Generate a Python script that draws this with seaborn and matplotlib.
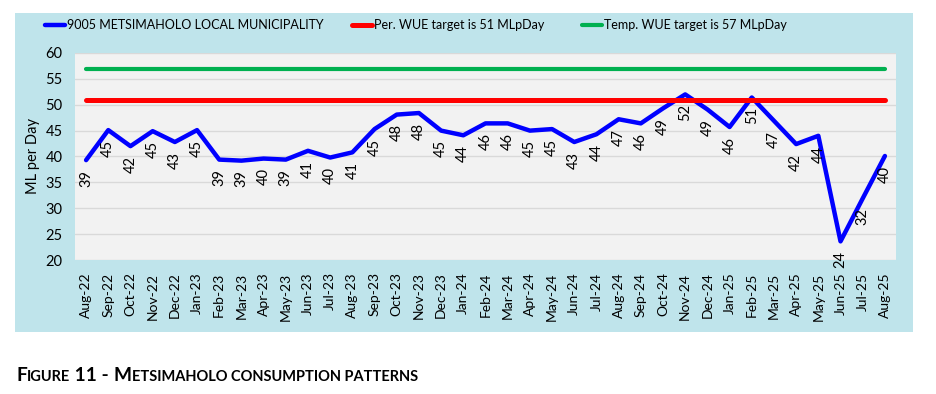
import numpy as np
import pandas as pd
import seaborn as sns
import matplotlib.pyplot as plt
from matplotlib.patches import Rectangle

months = ['Aug-22', 'Sep-22', 'Oct-22', 'Nov-22', 'Dec-22', 'Jan-23', 'Feb-23', 'Mar-23',
          'Apr-23', 'May-23', 'Jun-23', 'Jul-23', 'Aug-23', 'Sep-23', 'Oct-23', 'Nov-23',
          'Dec-23', 'Jan-24', 'Feb-24', 'Mar-24', 'Apr-24', 'May-24', 'Jun-24', 'Jul-24',
          'Aug-24', 'Sep-24', 'Oct-24', 'Nov-24', 'Dec-24', 'Jan-25', 'Feb-25', 'Mar-25',
          'Apr-25', 'May-25', 'Jun-25', 'Jul-25', 'Aug-25']
consumption = [39.3, 45.1, 42.0, 44.9, 42.8, 45.1, 39.4, 39.2,
               39.6, 39.4, 41.1, 39.8, 40.8, 45.3, 48.1, 48.4,
               45.0, 44.1, 46.4, 46.4, 45.0, 45.3, 42.8, 44.3,
               47.2, 46.4, 49.3, 52.0, 49.1, 45.7, 51.4, 46.9,
               42.4, 44.0, 23.6, 31.9, 40.1]
per_target = 51
temp_target = 57

series_name = '9005 METSIMAHOLO LOCAL MUNICIPALITY'
per_name = 'Per. WUE target is 51 MLpDay'
temp_name = 'Temp. WUE target is 57 MLpDay'

df = pd.DataFrame({'pos': np.arange(len(months)), 'month': months,
                   'usage': consumption})
df['per'] = per_target
df['temp'] = temp_target

sns.set_theme(style='white')
plt.rcParams['font.family'] = ['Lato', 'DejaVu Sans']
plt.rcParams['text.color'] = 'black'
plt.rcParams['axes.labelcolor'] = 'black'
plt.rcParams['xtick.color'] = 'black'
plt.rcParams['ytick.color'] = 'black'

fig = plt.figure(figsize=(9.36, 3.94), dpi=100)
W, H = 936, 394

# textured panel behind the chart (approximated as flat colour)
fig.patches.append(Rectangle((15 / W, 1 - 332 / H), (913 - 15) / W, (332 - 13) / H,
                             transform=fig.transFigure, facecolor='#bfe4eb',
                             edgecolor='none', zorder=-10))

ax = fig.add_axes([75 / W, 1 - 260 / H, (896 - 75) / W, (260 - 53) / H])
ax.set_zorder(2)
ax.set_facecolor('#f2f2f2')

sns.lineplot(data=df, x='pos', y='usage', ax=ax, color='#0000ff', lw=3.2,
             label=series_name, zorder=3)
sns.lineplot(data=df, x='pos', y='per', ax=ax, color='#ff0000', lw=3.6,
             label=per_name, zorder=4)
sns.lineplot(data=df, x='pos', y='temp', ax=ax, color='#00b050', lw=3.0,
             label=temp_name, zorder=4)

for x, v in zip(df['pos'], df['usage']):
    ax.annotate(f'{round(v)}', (x, v), xytext=(0, -7), textcoords='offset points',
                rotation=90, ha='center', va='top', fontsize=10.5, color='black', zorder=5,
                annotation_clip=False)

ax.set_xlim(-0.5, len(months) - 0.5)
ax.set_ylim(20, 60)
ax.set_yticks(range(20, 61, 5))
ax.set_xticks(df['pos'])
ax.set_xticklabels(months, rotation=90, fontsize=10)
ax.tick_params(axis='y', labelsize=10.5, pad=9, length=0)
ax.tick_params(axis='x', pad=9, length=0)
ax.yaxis.grid(True, color='#d9d9d9', lw=1)
ax.set_axisbelow(True)
for s in ax.spines.values():
    s.set_visible(False)
ax.set_xlabel('')
ax.set_ylabel('ML per Day', fontsize=10.5, labelpad=4)

handles, labels = ax.get_legend_handles_labels()
ax.get_legend().remove()
# one legend entry per target position, as in the source layout
for h, lab, x0 in zip(handles, labels, [40, 347, 577]):
    fig.legend([h], [lab], loc='center left', bbox_to_anchor=(x0 / W, 1 - 25 / H),
               frameon=False, fontsize=9, handlelength=1.6, handletextpad=0.15,
               borderaxespad=0, borderpad=0.4)

# caption in small caps
renderer = fig.canvas.get_renderer()
pieces = [('F', 13.8), ('IGURE', 10.5), (' 11 - ', 13.8), ('M', 13.8),
          ('ETSIMAHOLO CONSUMPTION PATTERNS', 10.5)]
xpos = 16 / W
for txt, size in pieces:
    t = fig.text(xpos, 1 - 381 / H, txt, fontsize=size, fontweight='bold',
                 va='baseline', ha='left', color='black')
    bb = t.get_window_extent(renderer)
    xpos += bb.width / W

fig.savefig('out.png', dpi=100)
